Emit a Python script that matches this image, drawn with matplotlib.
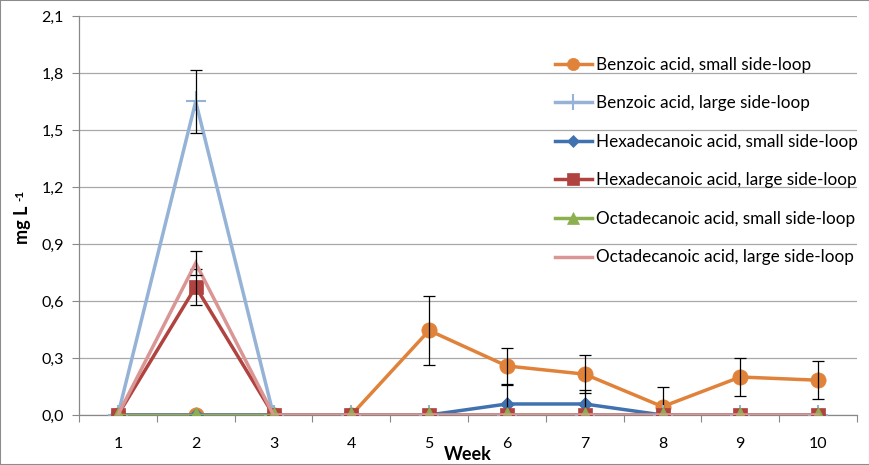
import matplotlib
matplotlib.use("Agg")
import matplotlib.pyplot as plt
import numpy as np
from matplotlib.patches import Rectangle

plt.rcParams['font.family'] = ['Lato', 'DejaVu Sans']

weeks = [1, 2, 3, 4, 5, 6, 7, 8, 9, 10]
benz_small = [0, 0, 0, 0, 0.445, 0.258, 0.215, 0.044, 0.20, 0.183]
benz_small_err = [0, 0, 0, 0, 0.18, 0.095, 0.10, 0.105, 0.10, 0.10]
benz_large = [0, 1.65, 0, 0, 0, 0, 0, 0, 0, 0]
benz_large_err = [0, 0.165, 0, 0, 0, 0, 0, 0, 0, 0]
hexa_small = [0, 0, 0, 0, 0, 0.058, 0.058, 0, 0, 0]
hexa_small_err = [0, 0, 0, 0, 0, 0.10, 0.075, 0, 0, 0]
hexa_large = [0, 0.675, 0, 0, 0, 0, 0, 0, 0, 0]
hexa_large_err = [0, 0.095, 0, 0, 0, 0, 0, 0, 0, 0]
octa_small = [0, 0, 0, 0, 0, 0, 0, 0, 0, 0]
octa_small_err = [0, 0, 0, 0, 0, 0, 0, 0, 0, 0]
octa_large = [0, 0.80, 0, 0, 0, 0, 0, 0, 0, 0]
octa_large_err = [0, 0.065, 0, 0, 0, 0, 0, 0, 0, 0]

labels = ["Benzoic acid, small side-loop", "Benzoic acid, large side-loop",
          "Hexadecanoic acid, small side-loop", "Hexadecanoic acid, large side-loop",
          "Octadecanoic acid, small side-loop", "Octadecanoic acid, large side-loop"]
yticks = [0.0, 0.3, 0.6, 0.9, 1.2, 1.5, 1.8, 2.1]
ytick_labels = ["0,0", "0,3", "0,6", "0,9", "1,2", "1,5", "1,8", "2,1"]

series = [
    (benz_small, benz_small_err, '#E0823A', 'o', 11, 0),
    (benz_large, benz_large_err, '#95B3D7', '+', 14, 1.5),
    (hexa_small, hexa_small_err, '#3F72AE', 'D', 7.5, 0),
    (hexa_large, hexa_large_err, '#B0433F', 's', 10, 0),
    (octa_small, octa_small_err, '#8CB050', '^', 11, 0),
    (octa_large, octa_large_err, '#D99694', None, 0, 0),
]

fig = plt.figure(figsize=(8.7, 4.65), dpi=100)
ax = fig.add_axes([79/870, 1-415/465, (857-79)/870, (415-16)/465])

x = np.array(weeks)
handles = []
for i, (vals, errs, col, mk, ms, mew) in enumerate(series):
    z = 3 + i
    h, = ax.plot(x, vals, color=col, lw=2.5, marker=mk if mk else None,
                 markersize=ms, markeredgewidth=mew if mk == '+' else 0.5,
                 markeredgecolor=col, markerfacecolor=col, zorder=z,
                 solid_joinstyle='miter', label=labels[i])
    handles.append(h)
    errs = np.array(errs)
    vals = np.array(vals)
    m = errs > 0
    if m.any():
        ax.errorbar(x[m], vals[m], yerr=errs[m], fmt='none', ecolor='black',
                    elinewidth=0.9, capsize=4, capthick=0.9, zorder=z + 0.5)

ax.set_xlim(0.5, 10.5)
ax.set_ylim(0, 2.1)
ax.set_xticks(weeks)
ax.set_xticklabels([str(w) for w in weeks], fontsize=11.5)
ax.set_xticks(np.arange(0.5, 10.6, 1), minor=True)
ax.tick_params(axis='x', which='major', length=0, pad=16)
ax.tick_params(axis='x', which='minor', length=5, color='#888888', width=0.8)
ax.set_yticks(yticks)
ax.set_yticklabels(ytick_labels, fontsize=11.5)
ax.tick_params(axis='y', length=5, color='#888888', width=0.8, pad=6)
ax.grid(axis='y', color='#A8A8A8', lw=0.9)
ax.set_axisbelow(True)
for s in ['top', 'right']:
    ax.spines[s].set_visible(False)
for s in ['left', 'bottom']:
    ax.spines[s].set_color('#888888')
    ax.spines[s].set_linewidth(0.9)

# y label: "mg L" with superscript "-1"
fig.text(23/870, 1-225/465, "mg L", rotation=90, fontsize=13, fontweight='bold',
         ha='center', va='center')
fig.text(20/870, 1-195/465, "-1", rotation=90, fontsize=8.5, fontweight='bold',
         ha='center', va='center')
ax.set_xlabel("Week", fontsize=13, fontweight='bold', labelpad=-4)

leg = ax.legend(handles=handles, loc='upper left', bbox_to_anchor=(0.6025, 0.915),
                frameon=False, fontsize=12.3, handlelength=2.2, handletextpad=0.2,
                labelspacing=1.32, borderaxespad=0, markerscale=0.8)

fig.patches.append(Rectangle((0, 0), 1, 1, transform=fig.transFigure, fill=False,
                             edgecolor='#8C8C8C', lw=1.5))
fig.savefig("out.png", dpi=100)
